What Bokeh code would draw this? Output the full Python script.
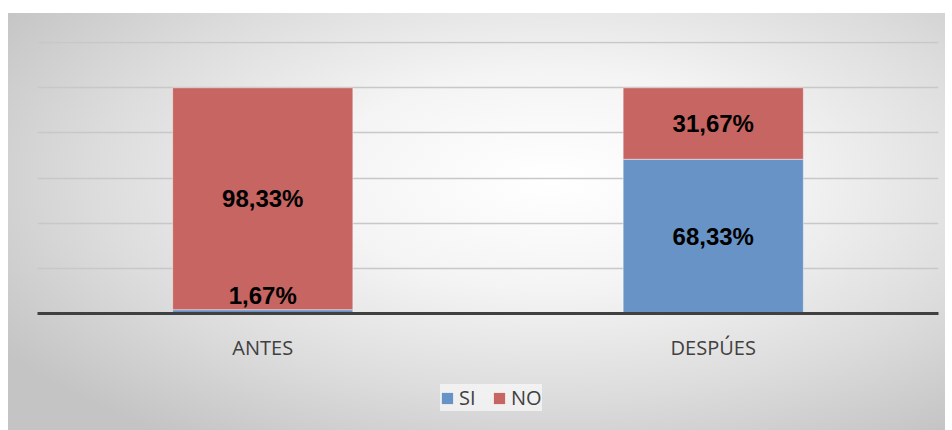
from bokeh.plotting import figure
from bokeh.layouts import column
from bokeh.models import ColumnDataSource, Legend, LegendItem, FactorRange
from bokeh.core.properties import value
from bokeh.embed import file_html
from bokeh.resources import INLINE

categories = ["ANTES", "DESPÚES"]
si_values = [1.67, 68.33]
no_values = [98.33, 31.67]
series = ["SI", "NO"]
colors = ["#6893c6", "#c66562"]
y_max = 120
grid_step = 20

def fmt(v):
    return f"{v:.2f}".replace(".", ",") + "%"

src = ColumnDataSource(dict(cat=categories, SI=si_values, NO=no_values))

p = figure(x_range=FactorRange(*categories), y_range=(0, y_max + 0.5),
           width=952, height=372, output_backend="svg", toolbar_location=None,
           min_border_left=37, min_border_right=14, min_border_top=41, min_border_bottom=59)
p.background_fill_color = None
p.border_fill_color = None
p.outline_line_color = None

r = p.vbar_stack(series, x="cat", width=0.4, source=src, color=colors,
                 line_color="white", line_alpha=0.45, line_width=1)

# labels
lx, ly, lt, lb, lo = [], [], [], [], []
for i, c in enumerate(categories):
    base = 0
    for vals in (si_values, no_values):
        v = vals[i]
        lx.append(c)
        lt.append(fmt(v))
        ly.append(base + v / 2)
        if v < 5:
            lb.append("bottom")
            lo.append(-3)
        else:
            lb.append("middle")
            lo.append(0)
        base += v
lsrc = ColumnDataSource(dict(x=lx, y=ly, t=lt, b=lb, o=lo))
p.text(x="x", y="y", text="t", source=lsrc, text_align="center", text_baseline="b",
       y_offset="o", text_font=value("Liberation Sans"), text_font_style="bold",
       text_font_size="24px", text_color="#000000")

p.yaxis.visible = False
p.ygrid.ticker = list(range(0, y_max + 1, grid_step))
p.ygrid.grid_line_color = "#c8c8c8"
p.ygrid.grid_line_width = 1.5
p.xgrid.grid_line_color = None

xa = p.xaxis[0]
xa.axis_line_color = "#404040"
xa.axis_line_width = 3
xa.major_tick_line_color = None
xa.minor_tick_line_color = None
xa.major_label_text_font = "Open Sans"
xa.major_label_text_font_size = "20px"
xa.major_label_text_color = "#404040"
xa.major_label_standoff = 14

# legend strip (zero-height swatch bars, only used for the legend keys)
p2 = figure(width=952, height=58, output_backend="svg", toolbar_location=None,
            x_axis_location=None, y_axis_location=None,
            min_border_left=0, min_border_right=0, min_border_top=0, min_border_bottom=0)
p2.background_fill_color = None
p2.border_fill_color = None
p2.outline_line_color = None
p2.grid.visible = False
swatches = [p2.vbar(x=[0], top=[0], bottom=[0], width=1, fill_color=colors[i],
                    line_color=None) for i in range(len(series))]

legend = Legend(items=[LegendItem(label=s, renderers=[swatches[i]]) for i, s in enumerate(series)],
                location=(403, 19), orientation="horizontal",
                glyph_width=14, glyph_height=14, label_text_font="Open Sans",
                label_text_font_size="20px", label_text_color="#404040",
                spacing=13, padding=11, label_standoff=5, margin=0,
                background_fill_color="#fafafa", background_fill_alpha=0.7,
                border_line_color=None)
p2.add_layout(legend, "center")

layout = column(p, p2, spacing=0)
layout.styles = {"background": "radial-gradient(ellipse 70% 75% at 58% 40%, #ffffff 0%, #f4f4f4 35%, #dcdcdc 70%, #c4c4c4 100%) 8px 13px / 937px 417px no-repeat, #ffffff"}

open("out.html", "w").write(file_html(layout, INLINE))
